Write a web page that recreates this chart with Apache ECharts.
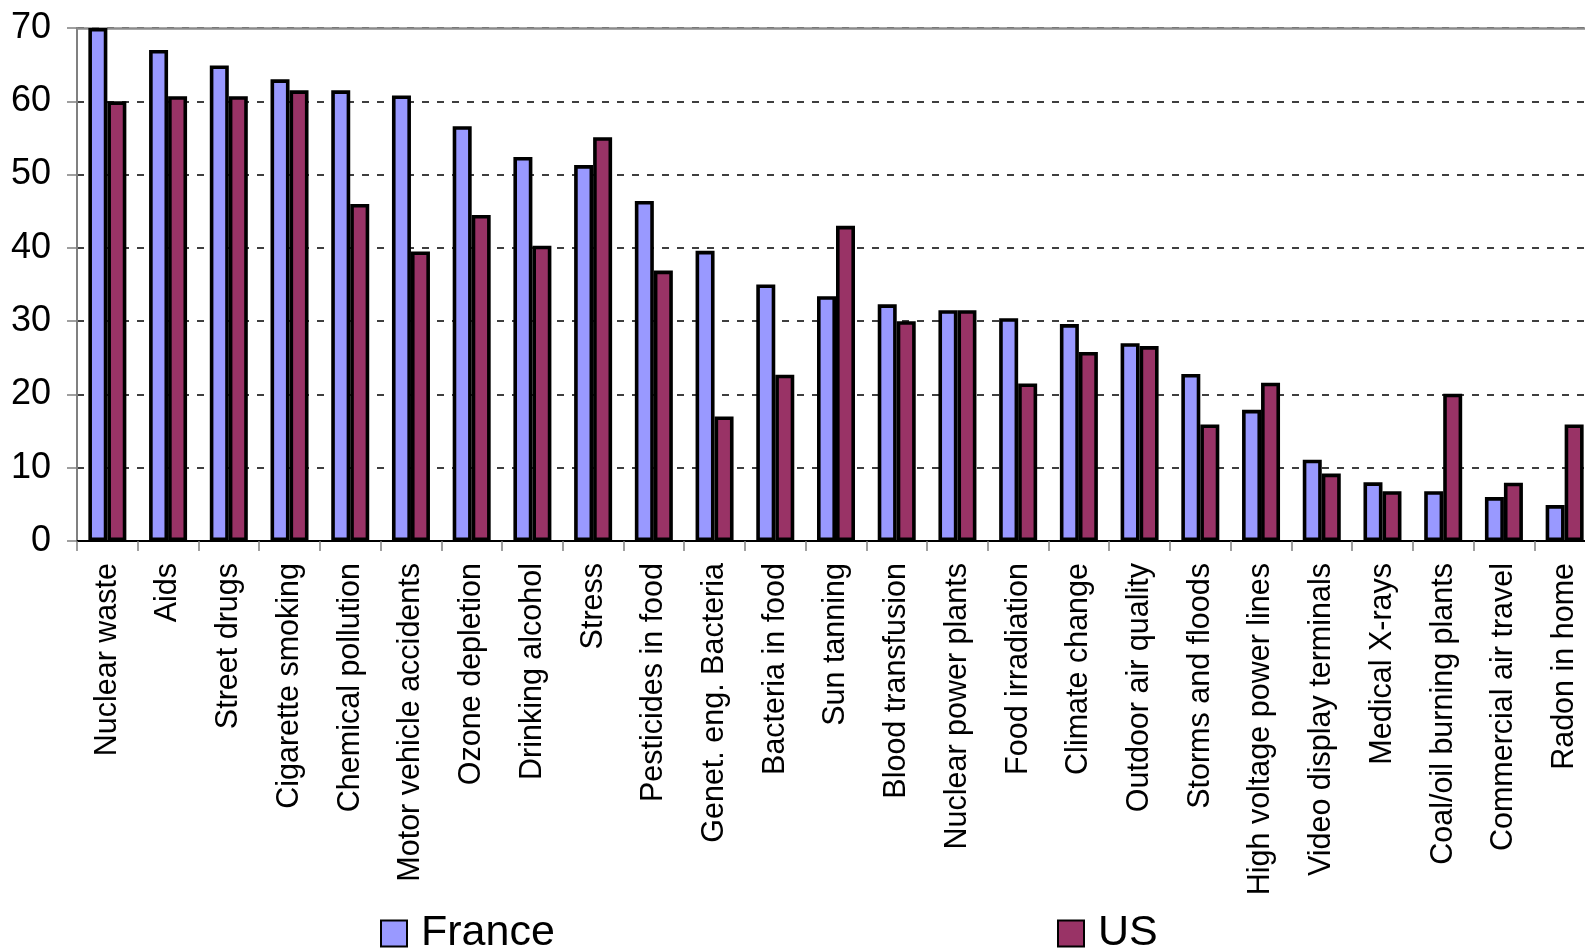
<!DOCTYPE html>
<html>
<head>
<meta charset="utf-8">
<title>Perceived risks: France vs US</title>
<script src="https://cdn.jsdelivr.net/npm/echarts@6/dist/echarts.min.js"></script>
<style>
  html, body { margin: 0; padding: 0; background: #ffffff; overflow: hidden; }
  /* the plot runs slightly past the right edge of the page */
  #chart { width: 1595px; height: 951px; }
</style>
</head>
<body>
<div id="chart"></div>
<script>
// Hazard categories, in ranked order
const categories = [
  'Nuclear waste', 'Aids', 'Street drugs', 'Cigarette smoking', 'Chemical pollution',
  'Motor vehicle accidents', 'Ozone depletion', 'Drinking alcohol', 'Stress',
  'Pesticides in food', 'Genet. eng. Bacteria', 'Bacteria in food', 'Sun tanning',
  'Blood transfusion', 'Nuclear power plants', 'Food irradiation', 'Climate change',
  'Outdoor air quality', 'Storms and floods', 'High voltage power lines',
  'Video display terminals', 'Medical X-rays', 'Coal/oil burning plants',
  'Commercial air travel', 'Radon in home'
];

// Share of respondents per country (%)
const france = [
  70, 67, 64.9, 63, 61.5, 60.8, 56.6, 52.4, 51.3, 46.4, 39.6, 35, 33.4,
  32.3, 31.5, 30.4, 29.6, 27, 22.8, 17.9, 11.1, 8, 6.8, 6, 4.9
];
const us = [
  60, 60.7, 60.7, 61.5, 46, 39.5, 44.5, 40.3, 55.1, 36.9, 17, 22.7, 43,
  30, 31.5, 21.5, 25.8, 26.6, 15.9, 21.6, 9.2, 6.8, 20.1, 7.95, 15.9
];

// Value axis ticks
const yMin = 0, yMax = 70, yStep = 10;

const FONT = '"Liberation Sans", Arial, sans-serif';
const FRANCE_COLOR = '#9999FF';
const US_COLOR = '#993366';

const chart = echarts.init(document.getElementById('chart'), null, { renderer: 'canvas' });

const barStyle = (color) => ({
  color: color,
  borderColor: '#000000',
  borderWidth: 3.6
});

const legendText = { fontFamily: FONT, fontSize: 43, color: '#000', padding: [0, 0, 0, 9] };

chart.setOption({
  animation: false,
  backgroundColor: '#ffffff',
  textStyle: { fontFamily: FONT },
  grid: { left: 77, right: 0, top: 28, bottom: 410, containLabel: false },
  legend: [
    {
      data: ['France'],
      left: 375, top: 907,
      itemWidth: 26, itemHeight: 26,
      icon: 'rect',
      textStyle: legendText
    },
    {
      data: ['US'],
      left: 1052, top: 907,
      itemWidth: 26, itemHeight: 26,
      icon: 'rect',
      textStyle: legendText
    }
  ],
  xAxis: [
    {
      type: 'category',
      data: categories,
      boundaryGap: true,
      axisLine: { show: true, lineStyle: { color: '#000000', width: 2 } },
      axisTick: { show: true, length: 10, lineStyle: { color: '#808080', width: 1.5 } },
      axisLabel: {
        interval: 0,
        rotate: 90,
        margin: 22,
        fontFamily: FONT,
        fontSize: 30.5,
        color: '#000000'
      },
      splitLine: { show: false }
    },
    {
      // plot frame top edge
      type: 'category',
      position: 'top',
      data: categories,
      axisLine: { show: true, lineStyle: { color: '#8c8c8c', width: 2.5 } },
      axisTick: { show: false },
      axisLabel: { show: false },
      splitLine: { show: false }
    }
  ],
  yAxis: {
    type: 'value',
    min: yMin,
    max: yMax,
    interval: yStep,
    axisLine: { show: true, lineStyle: { color: '#808080', width: 2 } },
    axisTick: { show: true, length: 10, lineStyle: { color: '#808080', width: 1.5 } },
    axisLabel: {
      margin: 26,
      fontFamily: FONT,
      fontSize: 36,
      color: '#000000'
    },
    splitLine: {
      show: true,
      lineStyle: { color: '#000000', width: 1.5, type: [7, 8] }
    }
  },
  series: [
    {
      name: 'France',
      type: 'bar',
      data: france,
      barWidth: 19,
      barGap: '0%',
      itemStyle: barStyle(FRANCE_COLOR)
    },
    {
      name: 'US',
      type: 'bar',
      data: us,
      barWidth: 19,
      barGap: '0%',
      itemStyle: barStyle(US_COLOR)
    }
  ]
});
</script>
</body>
</html>
